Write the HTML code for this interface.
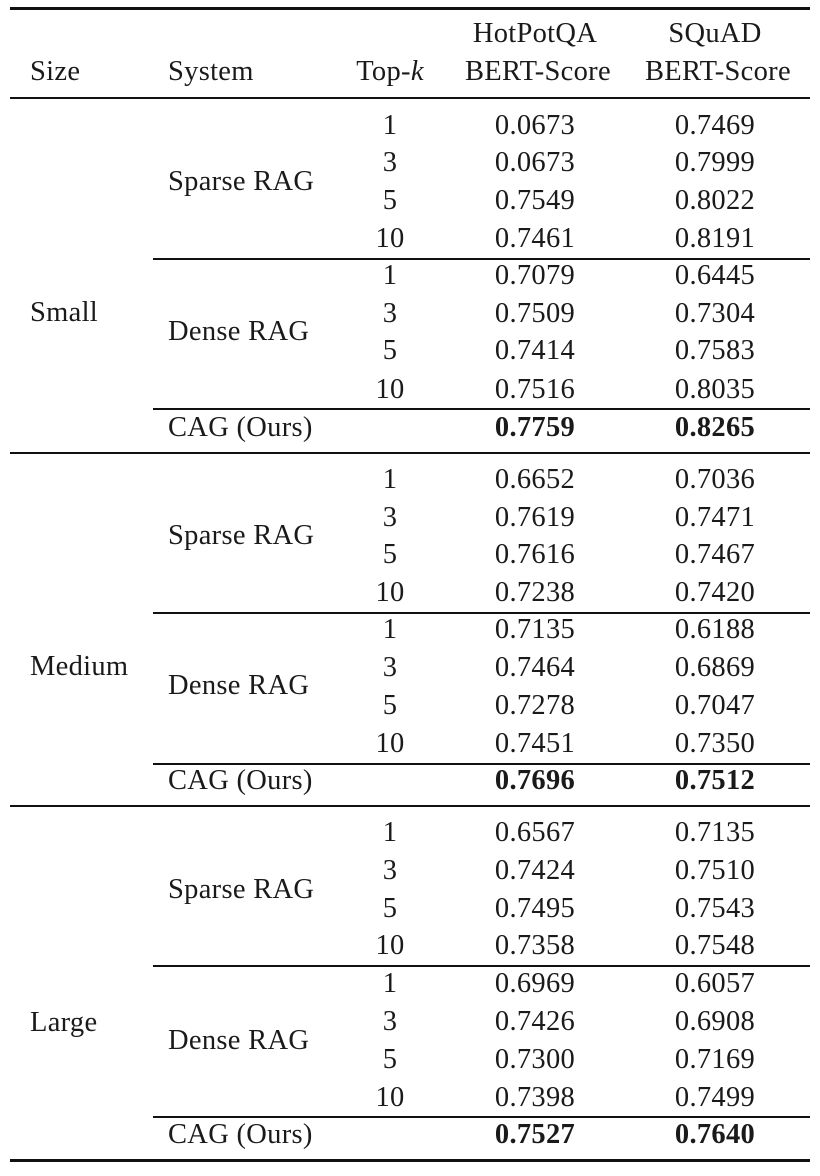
<!DOCTYPE html>
<html><head><meta charset="utf-8"><style>
body{margin:0;background:#fff;}
#c{position:relative;width:820px;height:1176px;font-family:"Liberation Serif",serif;font-size:28.5px;letter-spacing:0.3px;color:#1a1a1a;}
.t{position:absolute;height:32px;line-height:32px;white-space:nowrap;}
.k{left:350px;width:80px;text-align:center;}
.h{left:465px;width:140px;text-align:center;}
.s{left:645px;width:140px;text-align:center;}
.b{font-weight:bold;}
.l{position:absolute;background:#111;}
</style></head><body><div id="c">
<div class="l" style="left:10px;top:7px;width:800px;height:3px"></div>
<div class="l" style="left:10px;top:97px;width:800px;height:2px"></div>
<div class="t" style="left:30px;top:56px">Size</div>
<div class="t" style="left:168px;top:56px">System</div>
<div class="t k" style="top:56px">Top-<i>k</i></div>
<div class="t h" style="top:18px">HotPotQA</div>
<div class="t h" style="top:56px">BERT-Score</div>
<div class="t s" style="top:18px">SQuAD</div>
<div class="t s" style="top:56px">BERT-Score</div>

<!-- Small -->
<div class="t" style="left:30px;top:297px">Small</div>
<div class="t" style="left:168px;top:166px">Sparse RAG</div>
<div class="t" style="left:168px;top:316px">Dense RAG</div>
<div class="t k" style="top:110px">1</div><div class="t h" style="top:110px">0.0673</div><div class="t s" style="top:110px">0.7469</div>
<div class="t k" style="top:147px">3</div><div class="t h" style="top:147px">0.0673</div><div class="t s" style="top:147px">0.7999</div>
<div class="t k" style="top:185px">5</div><div class="t h" style="top:185px">0.7549</div><div class="t s" style="top:185px">0.8022</div>
<div class="t k" style="top:223px">10</div><div class="t h" style="top:223px">0.7461</div><div class="t s" style="top:223px">0.8191</div>
<div class="l" style="left:153px;top:258px;width:657px;height:2px"></div>
<div class="t k" style="top:260px">1</div><div class="t h" style="top:260px">0.7079</div><div class="t s" style="top:260px">0.6445</div>
<div class="t k" style="top:298px">3</div><div class="t h" style="top:298px">0.7509</div><div class="t s" style="top:298px">0.7304</div>
<div class="t k" style="top:335px">5</div><div class="t h" style="top:335px">0.7414</div><div class="t s" style="top:335px">0.7583</div>
<div class="t k" style="top:374px">10</div><div class="t h" style="top:374px">0.7516</div><div class="t s" style="top:374px">0.8035</div>
<div class="l" style="left:153px;top:408px;width:657px;height:2px"></div>
<div class="t" style="left:168px;top:412px">CAG (Ours)</div><div class="t h b" style="top:412px">0.7759</div><div class="t s b" style="top:412px">0.8265</div>
<div class="l" style="left:10px;top:452px;width:800px;height:2px"></div>

<!-- Medium -->
<div class="t" style="left:30px;top:651px">Medium</div>
<div class="t" style="left:168px;top:520px">Sparse RAG</div>
<div class="t" style="left:168px;top:670px">Dense RAG</div>
<div class="t k" style="top:464px">1</div><div class="t h" style="top:464px">0.6652</div><div class="t s" style="top:464px">0.7036</div>
<div class="t k" style="top:502px">3</div><div class="t h" style="top:502px">0.7619</div><div class="t s" style="top:502px">0.7471</div>
<div class="t k" style="top:539px">5</div><div class="t h" style="top:539px">0.7616</div><div class="t s" style="top:539px">0.7467</div>
<div class="t k" style="top:577px">10</div><div class="t h" style="top:577px">0.7238</div><div class="t s" style="top:577px">0.7420</div>
<div class="l" style="left:153px;top:612px;width:657px;height:2px"></div>
<div class="t k" style="top:614px">1</div><div class="t h" style="top:614px">0.7135</div><div class="t s" style="top:614px">0.6188</div>
<div class="t k" style="top:652px">3</div><div class="t h" style="top:652px">0.7464</div><div class="t s" style="top:652px">0.6869</div>
<div class="t k" style="top:690px">5</div><div class="t h" style="top:690px">0.7278</div><div class="t s" style="top:690px">0.7047</div>
<div class="t k" style="top:728px">10</div><div class="t h" style="top:728px">0.7451</div><div class="t s" style="top:728px">0.7350</div>
<div class="l" style="left:153px;top:763px;width:657px;height:2px"></div>
<div class="t" style="left:168px;top:765px">CAG (Ours)</div><div class="t h b" style="top:765px">0.7696</div><div class="t s b" style="top:765px">0.7512</div>
<div class="l" style="left:10px;top:805px;width:800px;height:2px"></div>

<!-- Large -->
<div class="t" style="left:30px;top:1007px">Large</div>
<div class="t" style="left:168px;top:874px">Sparse RAG</div>
<div class="t" style="left:168px;top:1025px">Dense RAG</div>
<div class="t k" style="top:817px">1</div><div class="t h" style="top:817px">0.6567</div><div class="t s" style="top:817px">0.7135</div>
<div class="t k" style="top:855px">3</div><div class="t h" style="top:855px">0.7424</div><div class="t s" style="top:855px">0.7510</div>
<div class="t k" style="top:893px">5</div><div class="t h" style="top:893px">0.7495</div><div class="t s" style="top:893px">0.7543</div>
<div class="t k" style="top:930px">10</div><div class="t h" style="top:930px">0.7358</div><div class="t s" style="top:930px">0.7548</div>
<div class="l" style="left:153px;top:965px;width:657px;height:2px"></div>
<div class="t k" style="top:968px">1</div><div class="t h" style="top:968px">0.6969</div><div class="t s" style="top:968px">0.6057</div>
<div class="t k" style="top:1006px">3</div><div class="t h" style="top:1006px">0.7426</div><div class="t s" style="top:1006px">0.6908</div>
<div class="t k" style="top:1044px">5</div><div class="t h" style="top:1044px">0.7300</div><div class="t s" style="top:1044px">0.7169</div>
<div class="t k" style="top:1082px">10</div><div class="t h" style="top:1082px">0.7398</div><div class="t s" style="top:1082px">0.7499</div>
<div class="l" style="left:153px;top:1116px;width:657px;height:2px"></div>
<div class="t" style="left:168px;top:1119px">CAG (Ours)</div><div class="t h b" style="top:1119px">0.7527</div><div class="t s b" style="top:1119px">0.7640</div>
<div class="l" style="left:10px;top:1159px;width:800px;height:3px"></div>
</div></body></html>
